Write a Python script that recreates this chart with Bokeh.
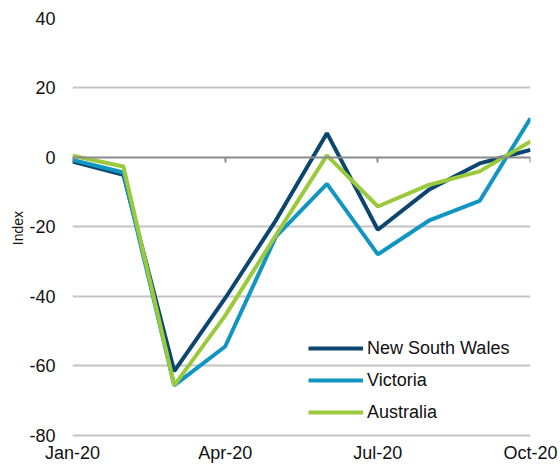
from bokeh.plotting import figure
from bokeh.models import Range1d, FixedTicker, LinearAxis, ColumnDataSource
from bokeh.embed import file_html
from bokeh.resources import INLINE

months = ["Jan-20", "Feb-20", "Mar-20", "Apr-20", "May-20", "Jun-20",
          "Jul-20", "Aug-20", "Sep-20", "Oct-20"]
nsw = [-1.2, -5.0, -61.5, -40.5, -18.0, 7.0, -20.8, -9.3, -1.7, 2.2]
victoria = [-0.7, -4.3, -65.6, -54.4, -22.7, -7.6, -27.9, -18.2, -12.5, 11.3]
australia = [0.5, -2.6, -65.6, -45.5, -22.3, 0.6, -14.1, -7.9, -4.0, 4.6]
y_ticks = [-80, -60, -40, -20, 0, 20, 40]
x_tick_labels = {0: "Jan-20", 3: "Apr-20", 6: "Jul-20", 9: "Oct-20"}

FONT = "Liberation Sans"
idx = list(range(len(months)))
src = ColumnDataSource(dict(x=idx, month=months, nsw=nsw, vic=victoria, aus=australia))

# small pad below -80 so the bottom gridline is not clipped by the frame
p = figure(width=560, height=465, x_range=Range1d(0, len(months) - 1),
           y_range=Range1d(min(y_ticks) - 0.58, max(y_ticks)),
           output_backend="svg", toolbar_location=None,
           min_border_left=72, min_border_right=30, min_border_top=18,
           min_border_bottom=28)
p.outline_line_color = None
p.background_fill_color = "white"
p.border_fill_color = "white"

# y axis
p.yaxis.ticker = FixedTicker(ticks=y_ticks)
p.yaxis.major_label_overrides = {t: str(t) for t in y_ticks}
p.yaxis.axis_line_color = None
p.yaxis.major_tick_line_color = None
p.yaxis.major_tick_out = 0
p.yaxis.major_tick_in = 0
p.yaxis.minor_tick_line_color = None
p.yaxis.major_label_text_font = FONT
p.yaxis.major_label_text_font_size = "18px"
p.yaxis.major_label_text_color = "#111111"
p.yaxis.major_label_standoff = 17
p.yaxis.axis_label = "Index"
p.yaxis.axis_label_text_font = FONT
p.yaxis.axis_label_text_font_size = "14px"
p.yaxis.axis_label_text_font_style = "normal"
p.yaxis.axis_label_text_color = "#111111"
p.yaxis.axis_label_standoff = 0

# x axis (labels only)
p.xaxis.ticker = FixedTicker(ticks=list(x_tick_labels.keys()))
p.xaxis.major_label_overrides = x_tick_labels
p.xaxis.axis_line_color = None
p.xaxis.major_tick_line_color = None
p.xaxis.major_tick_out = 0
p.xaxis.major_tick_in = 0
p.xaxis.minor_tick_line_color = None
p.xaxis.major_label_text_font = FONT
p.xaxis.major_label_text_font_size = "18px"
p.xaxis.major_label_text_color = "#111111"
p.xaxis.major_label_standoff = 5

# zero axis line with ticks
zero_axis = LinearAxis(fixed_location=0,
                       ticker=FixedTicker(ticks=list(x_tick_labels.keys())),
                       axis_line_color="#8a8a8a", axis_line_width=2,
                       major_tick_line_color="#8a8a8a", major_tick_line_width=2,
                       major_tick_in=0, major_tick_out=5,
                       minor_tick_line_color=None,
                       major_label_text_color=None,
                       major_label_text_font_size="1px")
p.add_layout(zero_axis, "below")

# grid
p.xgrid.grid_line_color = None
p.ygrid.ticker = FixedTicker(ticks=[t for t in y_ticks if t != 0])
p.ygrid.grid_line_color = "#c3c3c3"
p.ygrid.grid_line_width = 2

p.line("x", "nsw", source=src, line_color="#0b4670", line_width=4,
       legend_label="New South Wales")
p.line("x", "vic", source=src, line_color="#1195c3", line_width=4,
       legend_label="Victoria")
p.line("x", "aus", source=src, line_color="#9aca3c", line_width=4,
       legend_label="Australia")

lg = p.legend[0]
lg.location = (236, 14)
lg.background_fill_alpha = 0
lg.border_line_color = None
lg.padding = 0
lg.margin = 0
lg.spacing = 10
lg.glyph_width = 55
lg.glyph_height = 22
lg.label_height = 22
lg.label_standoff = 4
lg.label_text_font = FONT
lg.label_text_font_size = "18px"
lg.label_text_color = "#111111"

open("out.html", "w").write(file_html(p, INLINE))
